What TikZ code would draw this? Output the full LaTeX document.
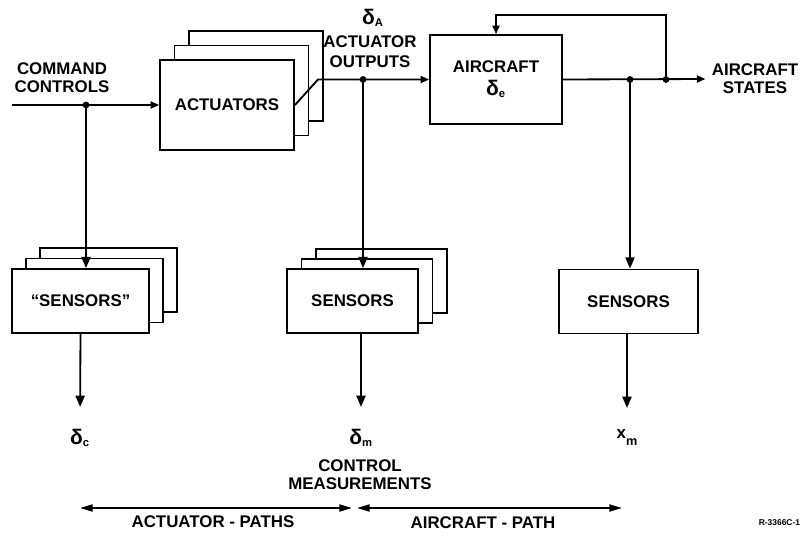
\documentclass[tikz,border=0pt]{standalone}
\usepackage{fontspec}
\setmainfont{Liberation Sans}
\usepackage{tikz}
\usetikzlibrary{arrows.meta, positioning, calc}
\newcommand{\dlt}{{\fontsize{15}{15}\selectfont δ}}
\tikzset{
  block/.style={rectangle, draw=black, fill=white, line width=1.3pt,
    font=\bfseries\fontsize{12}{16}\selectfont, align=center, inner sep=2pt},
  arrow/.style={-{Triangle[length=8pt,width=6.5pt]}, line width=1.3pt},
  inarrow/.style={-{Triangle[length=6pt,width=5pt]}, line width=1.3pt},
  span/.style={{Triangle[length=9pt,width=5pt]}-{Triangle[length=9pt,width=5pt]}, line width=1.3pt},
  txt/.style={font=\bfseries\fontsize{12}{13}\selectfont, align=center, inner sep=0pt}
}

\begin{document}
\begin{tikzpicture}[x=0.025cm, y=-0.025cm, line width=1.3pt]
  \useasboundingbox (0,0) rectangle (802,545);

  % Stacked sheets behind the front blocks
  \foreach \k in {2,1} {
    \node[block, minimum width=3.35cm, minimum height=2.25cm] (act\k) at (227+14.5*\k,105-14.5*\k) {};
    \node[block, minimum width=3.425cm, minimum height=1.6cm] (sc\k) at (80.5+14*\k,301-10.5*\k) {};
    \node[block, minimum width=3.275cm, minimum height=1.6cm] (sm\k) at (352.5+14.5*\k,301-10*\k) {};
  }

  % Blocks
  \node[block, minimum width=3.35cm, minimum height=2.25cm] (act) at (227,105) {ACTUATORS};
  \node[block, minimum width=3.3cm, minimum height=2.225cm] (ac) at (496,79.5) {AIRCRAFT\\\dlt\textsubscript{e}};
  \node[block, minimum width=3.425cm, minimum height=1.6cm] (sc) at (80.5,301) {``SENSORS''};
  \node[block, minimum width=3.275cm, minimum height=1.6cm] (sm) at (352.5,301) {SENSORS};
  \node[block, minimum width=3.475cm, minimum height=1.6cm] (sx) at (628.5,301.5) {SENSORS};

  % Labels
  \node[txt] (cmd) at (62,78) {COMMAND\\CONTROLS};
  \node[txt] (da) at (373,18) {\dlt\textsubscript{A}};
  \node[txt] (aout) at (370,52) {ACTUATOR\\[1pt]OUTPUTS};
  \node[txt, inner sep=4pt] (states) at (755,79) {AIRCRAFT\\STATES};
  \node[txt, anchor=north] (dc) at (80,428) {\dlt\textsubscript{c}};
  \node[txt, anchor=north] (dm) at (361,428) {\dlt\textsubscript{m}};
  \node[txt, anchor=north] (xm) at (627,429) {x\raisebox{-0.8ex}{\fontsize{9}{9}\selectfont m}};
  \node[txt] (cmeas) at (360,475) {CONTROL\\MEASUREMENTS};
  \node[txt] (apath) at (213,522) {ACTUATOR - PATHS};
  \node[txt] (cpath) at (483,523) {AIRCRAFT - PATH};
  \node[txt, anchor=east, font=\bfseries\fontsize{6}{7}\selectfont] (fig) at (801,523) {R-3366C-1};

  % Junctions and bends
  \coordinate (cin) at (12,105);
  \coordinate (j1) at (86,105);
  \coordinate (kink) at (318,79.5);
  \coordinate (j2) at (363,79.5);
  \coordinate (j3) at (630,79.5);
  \coordinate (j4) at (666,79.5);
  \coordinate (fb) at (666,15);

  % Forward path
  \draw[inarrow] (cin) -- (act.west);
  \draw[inarrow] (act.east) -- (kink) -- (ac.west);
  \draw[inarrow] (ac.east) -- (states.west);
  \draw[inarrow] (j4) -- (fb) -| (ac.north);

  % Sensor paths
  \draw[arrow] (j1) -- (j1 |- sc.north);
  \draw[arrow] (j2) -- (j2 |- sm.north);
  \draw[arrow] (j3) -- (j3 |- sx.north);
  \draw[arrow, shorten >=15pt] (sc.south) -- (dc.north);
  \draw[arrow, shorten >=15pt] (dm |- sm.south) -- (dm.north);
  \draw[arrow, shorten >=15pt] (xm |- sx.south) -- (xm.north);

  \foreach \j in {j1,j2,j3,j4}
    \fill (\j) circle (2.4pt);

  % Path spans
  \draw[span] (80,508) -- (352,508);
  \draw[span] (357,508) -- (622,508);
\end{tikzpicture}
\end{document}
